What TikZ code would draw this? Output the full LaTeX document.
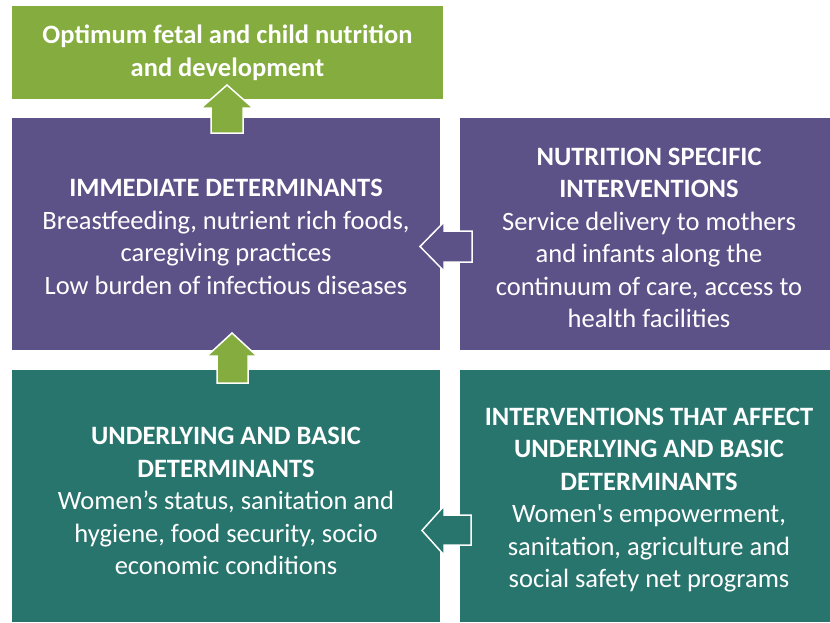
\documentclass[tikz,border=0pt]{standalone}
\usepackage{fontspec}
\setmainfont{Carlito}
\definecolor{cgreen}{RGB}{132,172,62}
\definecolor{cpurple}{RGB}{92,82,136}
\definecolor{cteal}{RGB}{40,117,110}
\begin{document}
\begin{tikzpicture}[x=1pt,y=-1pt,
  txt/.style={text=white,align=center,inner sep=0pt,font=\fontsize{26.5}{32.5}\selectfont},
  uparrow/.style={fill=cgreen,draw=white,line width=1.5pt,line join=miter},
]
\useasboundingbox (0,0) rectangle (830,622);
\fill[white] (0,0) rectangle (830,622);
% boxes
\fill[cgreen] (12,6) rectangle (443,99);
\coordinate (outcome) at (227.5,53);
\fill[cpurple] (12,118) rectangle (440,350);
\coordinate (imm) at (226,237);
\fill[cpurple] (460,118) rectangle (830,350);
\coordinate (nsi) at (649,238);
\fill[cteal] (12,370) rectangle (440,622);
\coordinate (und) at (226,501);
\fill[cteal] (460,370) rectangle (830,622);
\coordinate (iud) at (649,500);
% texts
\node[txt,font=\fontsize{26.5}{32.5}\selectfont\bfseries] (t1) at (outcome) {Optimum fetal and child nutrition\\and development};
\node[txt] (t2) at (imm) {\textbf{IMMEDIATE DETERMINANTS}\\Breastfeeding, nutrient rich foods,\\caregiving practices\\Low burden of infectious diseases};
\node[txt] (t3) at (nsi) {\textbf{NUTRITION SPECIFIC}\\\textbf{INTERVENTIONS}\\Service delivery to mothers\\and infants along the\\continuum of care, access to\\health facilities};
\node[txt] (t4) at (und) {\textbf{UNDERLYING AND BASIC}\\\textbf{DETERMINANTS}\\Women’s status, sanitation and\\hygiene, food security, socio\\economic conditions};
\node[txt] (t5) at (iud) {\textbf{INTERVENTIONS THAT AFFECT}\\\textbf{UNDERLYING AND BASIC}\\\textbf{DETERMINANTS}\\Women\textquotesingle s empowerment,\\sanitation, agriculture and\\social safety net programs};
% arrows
\draw[uparrow] (211,133) -- (211,108) -- (201,108) -- (227,85) -- (253,108) -- (243,108) -- (243,133) -- cycle;
\draw[uparrow] (217,383) -- (217,356) -- (207,356) -- (232,333) -- (257,356) -- (248,356) -- (248,383) -- cycle;
\draw[fill=cpurple,draw=white,line width=1.5pt] (472,231) -- (444,231) -- (444,222) -- (420,246.5) -- (444,271) -- (444,262) -- (472,262) -- cycle;
\draw[fill=cteal,draw=white,line width=1.5pt] (471,515) -- (444,515) -- (444,506) -- (422,530.5) -- (444,555) -- (444,545) -- (471,545) -- cycle;
\end{tikzpicture}
\end{document}
